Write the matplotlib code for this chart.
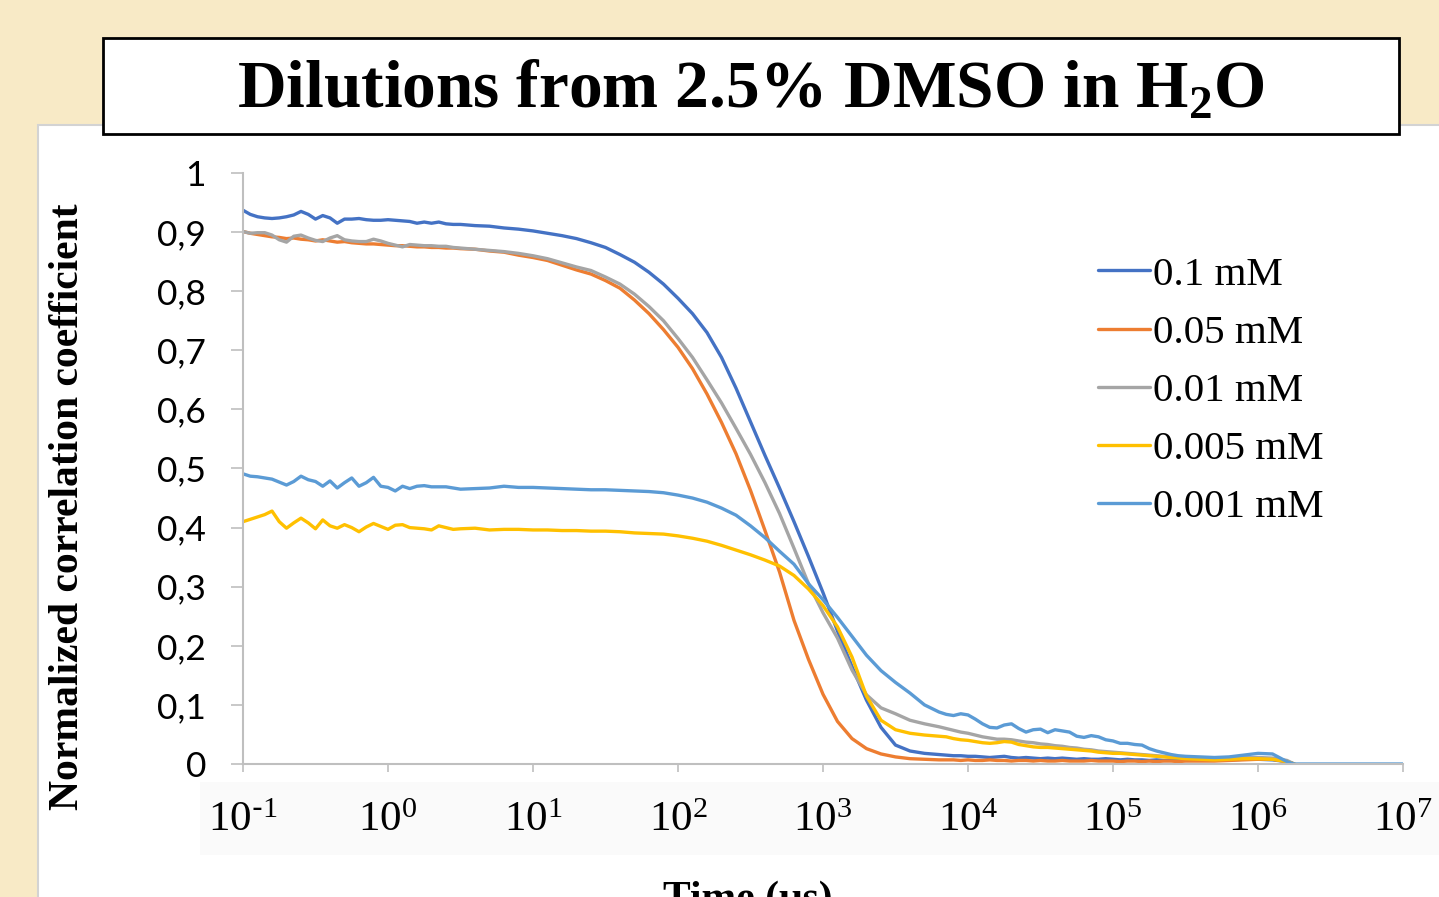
import numpy as np
import matplotlib
matplotlib.use("Agg")
import matplotlib.pyplot as plt
from matplotlib.patches import Rectangle

# time axis, as log10 of the time in microseconds
log_time = [-1.0, -0.95, -0.9, -0.85, -0.8, -0.75, -0.7, -0.65, -0.6, -0.55,
            -0.5, -0.45, -0.4, -0.35, -0.3, -0.25, -0.2, -0.15, -0.1, -0.05,
            0.0, 0.05, 0.1, 0.15, 0.2, 0.25, 0.3, 0.35, 0.4, 0.45,
            0.5, 0.6, 0.7, 0.8, 0.9, 1.0, 1.1, 1.2, 1.3, 1.4,
            1.5, 1.6, 1.7, 1.8, 1.9, 2.0, 2.1, 2.2, 2.3, 2.4,
            2.5, 2.6, 2.7, 2.8, 2.9, 3.0, 3.1, 3.2, 3.3, 3.4,
            3.5, 3.6, 3.7, 3.8, 3.85, 3.9, 3.95, 4.0, 4.05, 4.1,
            4.15, 4.2, 4.25, 4.3, 4.35, 4.4, 4.45, 4.5, 4.55, 4.6,
            4.65, 4.7, 4.75, 4.8, 4.85, 4.9, 4.95, 5.0, 5.05, 5.1,
            5.15, 5.2, 5.25, 5.3, 5.35, 5.4, 5.45, 5.5, 5.6, 5.7,
            5.8, 5.9, 6.0, 6.1, 6.2, 6.25, 7.0]

nan = float("nan")

conc_0100 = [0.937, 0.930, 0.926, 0.924, 0.923, 0.924, 0.926, 0.929, 0.935, 0.930,
             0.922, 0.928, 0.924, 0.915, 0.922, 0.922, 0.923, 0.921, 0.920, 0.920,
             0.921, 0.920, 0.919, 0.918, 0.915, 0.917, 0.915, 0.917, 0.914, 0.913,
             0.913, 0.911, 0.910, 0.907, 0.905, 0.902, 0.898, 0.894, 0.889, 0.882,
             0.874, 0.862, 0.849, 0.832, 0.812, 0.788, 0.762, 0.730, 0.688, 0.636,
             0.579, 0.522, 0.467, 0.410, 0.351, 0.290, 0.225, 0.165, 0.108, 0.062,
             0.032, 0.022, 0.018, 0.016, 0.015, 0.014, 0.014, 0.013, 0.013, 0.012,
             0.011, 0.012, 0.013, 0.011, 0.010, 0.011, 0.010, 0.009, 0.010, 0.009,
             0.010, 0.009, 0.008, 0.009, 0.008, 0.008, 0.009, 0.008, 0.007, 0.008,
             0.007, 0.007, 0.006, 0.007, 0.006, 0.006, 0.007, 0.006, 0.006, 0.006,
             0.007, 0.008, 0.008, 0.007, 0.004, 0.0, nan]

conc_0050 = [0.901, 0.898, 0.896, 0.894, 0.892, 0.891, 0.889, 0.890, 0.888, 0.887,
             0.885, 0.887, 0.885, 0.883, 0.884, 0.882, 0.881, 0.880, 0.880, 0.879,
             0.878, 0.877, 0.877, 0.876, 0.875, 0.875, 0.874, 0.874, 0.873, 0.873,
             0.872, 0.871, 0.868, 0.866, 0.861, 0.857, 0.852, 0.844, 0.836, 0.829,
             0.818, 0.805, 0.785, 0.762, 0.735, 0.705, 0.669, 0.626, 0.578, 0.525,
             0.463, 0.395, 0.325, 0.243, 0.177, 0.118, 0.072, 0.043, 0.026, 0.017,
             0.012, 0.009, 0.008, 0.007, 0.007, 0.007, 0.006, 0.007, 0.006, 0.006,
             0.007, 0.006, 0.006, 0.005, 0.006, 0.006, 0.005, 0.006, 0.005, 0.005,
             0.006, 0.005, 0.005, 0.005, 0.006, 0.005, 0.005, 0.005, 0.004, 0.005,
             0.005, 0.004, 0.005, 0.004, 0.005, 0.005, 0.004, 0.005, 0.005, 0.005,
             0.006, 0.007, 0.008, 0.008, 0.004, 0.0, nan]

conc_0010 = [0.901, 0.898, 0.899, 0.899, 0.895, 0.887, 0.883, 0.893, 0.895, 0.890,
             0.886, 0.884, 0.890, 0.894, 0.887, 0.885, 0.884, 0.884, 0.888, 0.885,
             0.881, 0.878, 0.875, 0.879, 0.878, 0.877, 0.877, 0.876, 0.876, 0.874,
             0.873, 0.871, 0.869, 0.867, 0.864, 0.860, 0.855, 0.848, 0.841, 0.835,
             0.824, 0.812, 0.795, 0.774, 0.750, 0.720, 0.688, 0.650, 0.611, 0.568,
             0.524, 0.476, 0.424, 0.365, 0.305, 0.256, 0.213, 0.159, 0.117, 0.095,
             0.085, 0.074, 0.068, 0.063, 0.060, 0.057, 0.054, 0.052, 0.049, 0.046,
             0.044, 0.042, 0.042, 0.041, 0.039, 0.037, 0.036, 0.034, 0.033, 0.031,
             0.030, 0.028, 0.027, 0.025, 0.024, 0.022, 0.021, 0.020, 0.019, 0.018,
             0.017, 0.016, 0.015, 0.014, 0.013, 0.012, 0.012, 0.011, 0.010, 0.009,
             0.010, 0.011, 0.011, 0.010, 0.006, 0.0, nan]

conc_0005 = [0.410, 0.414, 0.418, 0.422, 0.428, 0.410, 0.399, 0.408, 0.416, 0.408,
             0.398, 0.413, 0.403, 0.399, 0.405, 0.400, 0.393, 0.401, 0.407, 0.402,
             0.397, 0.404, 0.405, 0.400, 0.399, 0.398, 0.396, 0.403, 0.400, 0.397,
             0.398, 0.399, 0.396, 0.397, 0.397, 0.396, 0.396, 0.395, 0.395, 0.394,
             0.394, 0.393, 0.391, 0.390, 0.389, 0.386, 0.382, 0.377, 0.370, 0.362,
             0.354, 0.345, 0.335, 0.319, 0.296, 0.268, 0.232, 0.181, 0.115, 0.074,
             0.058, 0.052, 0.049, 0.047, 0.046, 0.043, 0.041, 0.040, 0.038, 0.036,
             0.035, 0.036, 0.038, 0.037, 0.033, 0.031, 0.029, 0.028, 0.028, 0.027,
             0.026, 0.025, 0.024, 0.023, 0.022, 0.020, 0.019, 0.018, 0.018, 0.017,
             0.016, 0.015, 0.014, 0.013, 0.012, 0.011, 0.010, 0.009, 0.008, 0.007,
             0.008, 0.009, 0.009, 0.008, 0.004, 0.0, nan]

conc_0001 = [0.491, 0.487, 0.486, 0.484, 0.482, 0.477, 0.472, 0.478, 0.487, 0.481,
             0.478, 0.470, 0.479, 0.467, 0.476, 0.484, 0.470, 0.476, 0.485, 0.470,
             0.468, 0.462, 0.470, 0.466, 0.470, 0.471, 0.469, 0.469, 0.469, 0.467,
             0.465, 0.466, 0.467, 0.470, 0.468, 0.468, 0.467, 0.466, 0.465, 0.464,
             0.464, 0.463, 0.462, 0.461, 0.459, 0.455, 0.450, 0.443, 0.433, 0.421,
             0.403, 0.383, 0.360, 0.338, 0.305, 0.278, 0.248, 0.216, 0.184, 0.158,
             0.138, 0.120, 0.100, 0.088, 0.084, 0.082, 0.085, 0.083, 0.076, 0.068,
             0.062, 0.061, 0.066, 0.068, 0.060, 0.054, 0.058, 0.059, 0.053, 0.058,
             0.056, 0.054, 0.047, 0.045, 0.048, 0.046, 0.041, 0.039, 0.035, 0.035,
             0.033, 0.032, 0.026, 0.022, 0.019, 0.016, 0.014, 0.013, 0.012, 0.011,
             0.012, 0.015, 0.018, 0.017, 0.004, 0.0, 0.0]

series = [conc_0100, conc_0050, conc_0010, conc_0005, conc_0001]
series_labels = ["0.1 mM", "0.05 mM", "0.01 mM", "0.005 mM", "0.001 mM"]
series_colors = ["#4472C4", "#ED7D31", "#A5A5A5", "#FFC000", "#5B9BD5"]

y_ticks = [0, 0.1, 0.2, 0.3, 0.4, 0.5, 0.6, 0.7, 0.8, 0.9, 1.0]
y_tick_labels = ["0", "0,1", "0,2", "0,3", "0,4", "0,5", "0,6", "0,7", "0,8", "0,9", "1"]
x_ticks = [1e-1, 1e0, 1e1, 1e2, 1e3, 1e4, 1e5, 1e6, 1e7]
x_tick_labels = [r"$\mathregular{10^{\text{-}1}}$", r"$\mathregular{10^{0}}$", r"$\mathregular{10^{1}}$",
                 r"$\mathregular{10^{2}}$", r"$\mathregular{10^{3}}$", r"$\mathregular{10^{4}}$",
                 r"$\mathregular{10^{5}}$", r"$\mathregular{10^{6}}$", r"$\mathregular{10^{7}}$"]

SERIF = "Liberation Serif"
W, H = 1439, 897

time_us = 10.0 ** np.array(log_time)

fig = plt.figure(figsize=(W / 100, H / 100), dpi=100)
fig.patch.set_facecolor("#F8EAC6")

# white slide panel and the faint band behind the tick labels (kept below the axes)
fig.add_artist(Rectangle((38 / W, -0.01), 1.0, 1 - 125 / H + 0.01, transform=fig.transFigure,
                         facecolor="white", edgecolor="#D3D3D3", lw=1.5, zorder=-3))
fig.add_artist(Rectangle((200 / W, 1 - 855 / H), 1.0, 73 / H, transform=fig.transFigure,
                         facecolor="#FAFAFA", edgecolor="none", zorder=-2))

# title box
fig.add_artist(Rectangle((103 / W, 1 - 134 / H), 1296 / W, 96 / H, transform=fig.transFigure,
                         facecolor="white", edgecolor="black", lw=2, zorder=2))
fig.text(751 / W, 1 - 108 / H, r"Dilutions from 2.5% DMSO in H$_\mathregular{2}$O",
         ha="center", va="baseline", fontsize=48.5, fontweight="bold", family=SERIF, zorder=3)

ax = fig.add_axes([243 / W, 1 - 764 / H, 1160 / W, 591 / H])
ax.set_facecolor("none")

for values, label, color in zip(series, series_labels, series_colors):
    ax.plot(time_us, values, color=color, lw=2.4, label=label, solid_capstyle="round")

ax.set_xscale("log")
ax.set_xlim(1e-1, 1e7)
ax.set_ylim(0, 1)
ax.set_xticks(x_ticks)
ax.set_xticklabels(x_tick_labels, family=SERIF, fontsize=31)
ax.minorticks_off()
ax.set_yticks(y_ticks)
ax.set_yticklabels(y_tick_labels, family="Lato", fontsize=25.5)

for side in ["top", "right"]:
    ax.spines[side].set_visible(False)
for side in ["left", "bottom"]:
    ax.spines[side].set_color("#BFBFBF")
    ax.spines[side].set_linewidth(1.5)
ax.tick_params(axis="y", length=8.6, width=1.2, color="#BFBFBF", pad=18)
ax.tick_params(axis="x", length=6, width=1.2, color="#BFBFBF", pad=21)

leg = ax.legend(loc="upper left", bbox_to_anchor=(1098 / W, 1 - 256 / H),
                bbox_transform=fig.transFigure, frameon=False,
                prop={"family": SERIF, "size": 29.5}, handlelength=1.27,
                handletextpad=0.08, labelspacing=0.5, borderpad=0, borderaxespad=0)
for line in leg.get_lines():
    line.set_linewidth(2.4)

fig.text(68 / W, 1 - 507 / H, "Normalized correlation coefficient", rotation=90,
         ha="center", va="center", fontsize=30, fontweight="bold", family=SERIF)
fig.text(748 / W, 1 - 910 / H, "Time (μs)", ha="center", va="baseline",
         fontsize=30, fontweight="bold", family=SERIF)

fig.savefig("out.png", dpi=100, facecolor=fig.get_facecolor())
